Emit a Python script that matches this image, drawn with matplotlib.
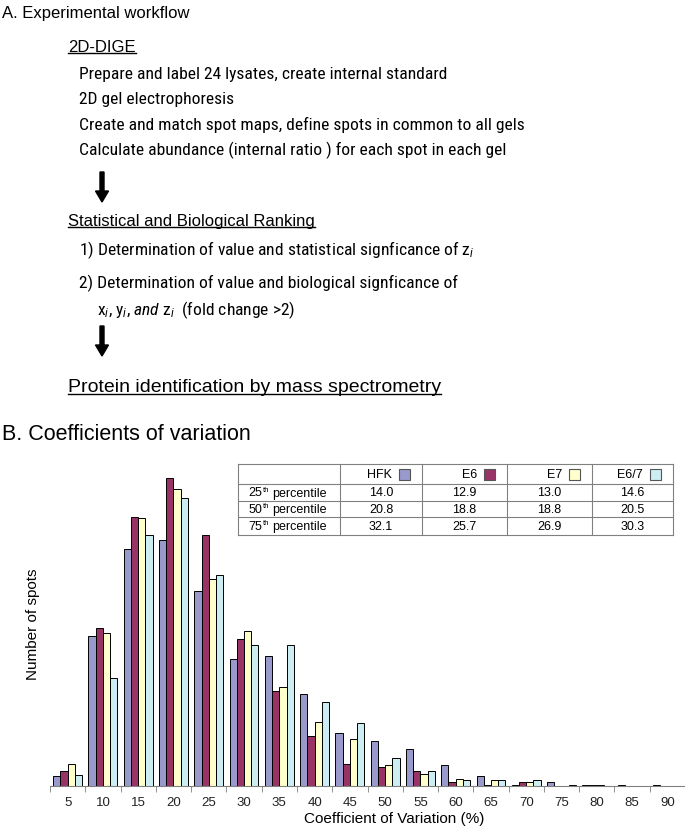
import numpy as np
import matplotlib
matplotlib.use("Agg")
import matplotlib.pyplot as plt
from matplotlib import font_manager as fm
from matplotlib.patches import FancyArrow, Rectangle

plt.rcParams['font.family'] = ['Liberation Sans', 'DejaVu Sans']

# histogram of coefficients of variation (number of spots per bin)
cv_bins = [5, 10, 15, 20, 25, 30, 35, 40, 45, 50, 55, 60, 65, 70, 75, 80, 85, 90]
hfk = [10, 150, 237, 246, 195, 127, 130, 92, 53, 45, 37, 21, 10, 1.5, 4, 1.5, 1.5, 1.5]
e6 = [15, 158, 269, 308, 251, 147, 95, 50, 22, 19, 15, 4, 1.5, 4, 0, 1.5, 0, 0]
e7 = [22, 153, 268, 297, 207, 155, 99, 64, 47, 21, 12, 7, 6, 4, 0, 1.5, 0, 0]
e67 = [11, 108, 251, 288, 211, 141, 141, 84, 63, 28, 15, 6, 6, 6, 1.5, 0, 0, 0]

series_names = ['HFK', 'E6', 'E7', 'E6/7']
series_colors = ['#9999cc', '#993366', '#ffffcc', '#cceef2']

# percentile table
pct_rows = ['25', '50', '75']
hfk_pct = [14.0, 20.8, 32.1]
e6_pct = [12.9, 18.8, 25.7]
e7_pct = [13.0, 18.8, 26.9]
e67_pct = [14.6, 20.5, 30.3]

dige_steps = ['Prepare and label 24 lysates, create internal standard',
              '2D gel electrophoresis',
              'Create and match spot maps, define spots in common to all gels',
              'Calculate abundance (internal ratio ) for each spot in each gel']


# a narrow sans for the workflow steps, if one is installed
def find_narrow():
    names = {f.name for f in fm.fontManager.ttflist}
    for p in ['Liberation Sans Narrow', 'Roboto Condensed', 'Open Sans Condensed',
              'Noto Sans Condensed', 'DejaVu Sans Condensed']:
        if p in names:
            return p, 'normal'
    for f in fm.fontManager.ttflist:
        if f.name in ('DejaVu Sans', 'Noto Sans', 'Open Sans', 'Roboto', 'Liberation Sans') \
                and str(f.stretch) in ('condensed', 'semi-condensed'):
            return f.name, f.stretch
    return 'Liberation Sans', 'normal'


nfam, nstretch = find_narrow()
pattern = nfam + (':' + nstretch if nstretch != 'normal' else '')
plt.rcParams['mathtext.fontset'] = 'custom'
plt.rcParams['mathtext.rm'] = pattern
plt.rcParams['mathtext.it'] = pattern + ':italic'
narrow = dict(family=[nfam, 'DejaVu Sans'], stretch=nstretch)

W, H = 685, 829
fig = plt.figure(figsize=(W / 100, H / 100), dpi=100)


def px_rect(left, top, right, bottom):
    return [left / W, 1 - bottom / H, (right - left) / W, (bottom - top) / H]


# --- bar chart ---
ax = fig.add_axes(px_rect(50, 440, 685, 787))
x = np.arange(len(cv_bins))
bw = 0.205
for k, (vals, col) in enumerate(zip([hfk, e6, e7, e67], series_colors)):
    ax.bar(x + (k - 1.5) * bw, vals, bw, color=col, edgecolor='black', linewidth=0.7)
ax.set_xlim(-0.5, len(cv_bins) - 0.5)
ax.set_ylim(0, 347)
ax.set_yticks([])
for s in ['top', 'right', 'left']:
    ax.spines[s].set_visible(False)
ax.spines['bottom'].set_color('#808080')
ax.set_xticks(x)
ax.set_xticklabels([str(c) for c in cv_bins], fontsize=9.5, color='#222222')
ax.tick_params(axis='x', which='major', length=0, pad=7)
ax.set_xticks(np.arange(-0.5, len(cv_bins)), minor=True)
ax.tick_params(axis='x', which='minor', length=4, color='#808080')
ax.set_xlabel('Coefficient of Variation (%)', fontsize=11)
ax.xaxis.set_label_coords((394 - 50) / 635, (787 - 812) / 347)
ax.set_ylabel('Number of spots', fontsize=11, va='center')
ax.yaxis.set_label_coords((33 - 50) / 635, (787 - 624) / 347)

# --- overlay in pixel coordinates ---
ov = fig.add_axes([0, 0, 1, 1])
ov.set_xlim(0, W)
ov.set_ylim(H, 0)
ov.axis('off')
ov.patch.set_alpha(0)


def text_width(t):
    fig.canvas.draw()
    return t.get_window_extent().width


def underline(t):
    fig.canvas.draw()
    bb = t.get_window_extent()
    inv = ov.transData.inverted()
    (x0, y0), (x1, y1) = inv.transform([[bb.x0, bb.y0], [bb.x1, bb.y1]])
    ov.plot([x0, x1], [y0 - 1, y0 - 1], color='black', lw=1)


def down_arrow(xc, y0, y1):
    ov.add_patch(FancyArrow(xc, y0, 0, y1 - y0, width=4, head_width=13,
                            head_length=11, length_includes_head=True,
                            color='black'))


# size the step text so the longest line spans as in the reference
probe = ov.text(0, 0, dige_steps[2], fontsize=12, **narrow)
body = min(13, 12 * 443 / text_width(probe))
probe.remove()

ov.text(2, 13, 'A. Experimental workflow', fontsize=12, va='center')
t = ov.text(68, 47, '2D-DIGE', fontsize=12, va='center')
underline(t)
for i, line in enumerate(dige_steps):
    ov.text(79, [74, 99, 125, 150][i], line, fontsize=body, va='center', **narrow)
down_arrow(102, 173, 203)
t = ov.text(68, 221, 'Statistical and Biological Ranking', fontsize=12, va='center')
underline(t)
ov.text(79, 250, r'1) Determination of value and statistical signficance of z$_{i}$',
        fontsize=body, va='center', **narrow)
ov.text(79, 283, '2) Determination of value and biological signficance of',
        fontsize=body, va='center', **narrow)
ov.text(97, 310, r'x$_{i}$, y$_{i}$, $\mathit{and}$ z$_{i}$  (fold change >2)',
        fontsize=body, va='center', **narrow)
down_arrow(102, 327, 357)
t = ov.text(68, 387, 'Protein identification by mass spectrometry', fontsize=14, va='center')
underline(t)

ov.text(2, 435, 'B. Coefficients of variation', fontsize=15.5, va='center')

# --- percentile table ---
col_edges = [238, 340, 422, 507, 592, 673]
row_edges = [465, 485, 502, 518, 536]
ov.add_patch(Rectangle((col_edges[0], row_edges[0]), col_edges[-1] - col_edges[0],
                       row_edges[-1] - row_edges[0], facecolor='white', edgecolor='none'))
for yy in row_edges:
    ov.plot([col_edges[0], col_edges[-1]], [yy, yy], color='#808080', lw=0.8)
for xx in col_edges:
    ov.plot([xx, xx], [row_edges[0], row_edges[-1]], color='#808080', lw=0.8)

ycen = [(row_edges[i] + row_edges[i + 1]) / 2 for i in range(len(row_edges) - 1)]
for j, (name, col) in enumerate(zip(series_names, series_colors)):
    right = col_edges[j + 2]
    sq = 11
    ov.add_patch(Rectangle((right - 12 - sq, ycen[0] - sq / 2), sq, sq,
                           facecolor=col, edgecolor='#555555', lw=0.8))
    ov.text(right - 12 - sq - 7, ycen[0], name, fontsize=9, ha='right', va='center')
for i, p in enumerate(pct_rows):
    yc = ycen[i + 1]
    ov.text(262, yc, p, fontsize=9, ha='right', va='center')
    ov.text(262.5, yc - 3.5, 'th', fontsize=5.5, ha='left', va='center')
    ov.text(272, yc, 'percentile', fontsize=9, ha='left', va='center')
    for j, vals in enumerate([hfk_pct, e6_pct, e7_pct, e67_pct]):
        ov.text((col_edges[j + 1] + col_edges[j + 2]) / 2, yc, f'{vals[i]:.1f}',
                fontsize=9, ha='center', va='center')

fig.savefig('out.png', dpi=100)
